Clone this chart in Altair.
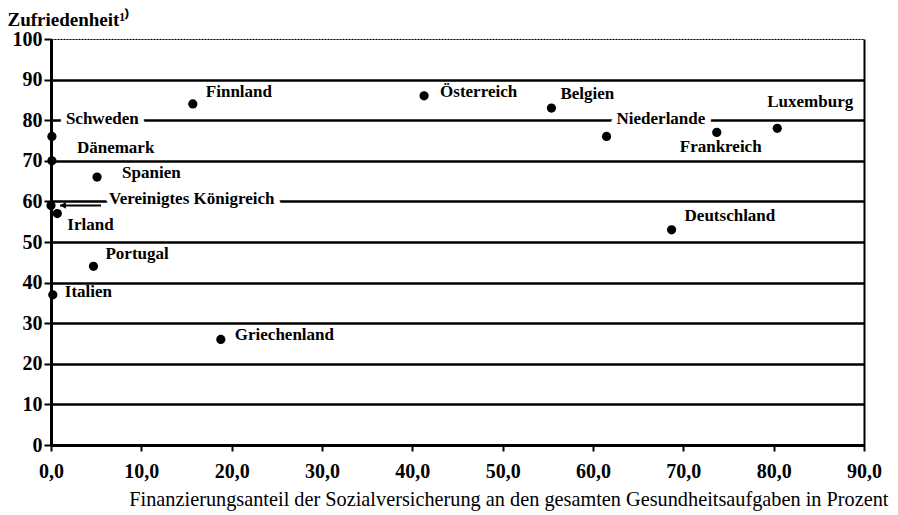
import altair as alt
import pandas as pd

# ---- data ----
countries = ["Finnland", "Schweden", "Dänemark", "Spanien", "Vereinigtes Königreich",
             "Irland", "Portugal", "Italien", "Griechenland", "Österreich", "Belgien",
             "Niederlande", "Frankreich", "Luxemburg", "Deutschland"]
finanzierung = [15.7, 0.1, 0.1, 5.1, 0.0, 0.7, 4.7, 0.2, 18.8, 41.3, 55.4, 61.5, 73.7, 80.4, 68.7]
zufriedenheit = [84, 76, 70, 66, 59, 57, 44, 37, 26, 86, 83, 76, 77, 78, 53]

x_ticks = [0, 10, 20, 30, 40, 50, 60, 70, 80, 90]
y_ticks = [0, 10, 20, 30, 40, 50, 60, 70, 80, 90, 100]

# label placement (pixel offsets from the dot, style only)
label_offsets = {
    "Finnland": (13, -7), "Schweden": (14, -12), "Dänemark": (25, -8),
    "Spanien": (25, 1), "Vereinigtes Königreich": (58, -1), "Irland": (10, 16),
    "Portugal": (12, -7), "Italien": (12, 2), "Griechenland": (14, 1),
    "Österreich": (16, 1), "Belgien": (9, -9), "Niederlande": (10, -12),
    "Frankreich": (-37, 20), "Luxemburg": (-10, -21), "Deutschland": (13, -9),
}
# labels that sit on a grid line and get a white box behind them
boxed = ["Schweden", "Vereinigtes Königreich", "Niederlande"]

df = pd.DataFrame({"land": countries, "fin": finanzierung, "zuf": zufriedenheit})

SERIF = "Liberation Serif"

x_enc = alt.X("fin:Q", scale=alt.Scale(domain=[0, 90], nice=False),
              axis=alt.Axis(
                  values=x_ticks,
                  labelExpr="replace(format(datum.value, '.1f'), '.', ',')",
                  labelFont=SERIF, labelFontSize=20, labelFontWeight="bold",
                  labelColor="black", labelPadding=10, labelFlush=False,
                  tickSize=6, tickWidth=2, tickColor="black",
                  domainColor="black", domainWidth=3,
                  grid=True, gridColor="black", gridWidth=2,
                  gridOpacity={"condition": {"test": "datum.value === 90", "value": 1}, "value": 0},
                  title="Finanzierungsanteil der Sozialversicherung an den gesamten Gesundheitsaufgaben in Prozent",
                  titleFont=SERIF, titleFontSize=20.3, titleFontWeight="normal", titleColor="black",
                  titleAlign="right", titleAnchor="start", titleX=837, titleY=60,
                  titleBaseline="alphabetic",
              ))
y_enc = alt.Y("zuf:Q", scale=alt.Scale(domain=[0, 100], nice=False),
              axis=alt.Axis(
                  values=y_ticks,
                  labelFont=SERIF, labelFontSize=20, labelFontWeight="bold",
                  labelColor="black", labelPadding=2, labelFlush=False,
                  tickSize=7, tickWidth=2, tickColor="black",
                  domainColor="black", domainWidth=3,
                  grid=True, gridColor="black",
                  gridWidth={"condition": {"test": "datum.value === 100", "value": 1}, "value": 2.5},
                  gridDash={"condition": {"test": "datum.value === 100", "value": [2, 1]}, "value": []},
                  title="Zufriedenheit¹⁾",
                  titleFont=SERIF, titleFontSize=19, titleFontWeight="bold", titleColor="black",
                  titleAngle=0, titleAlign="left", titleAnchor="start",
                  titleX=-44, titleY=-14, titleBaseline="alphabetic",
              ))

base = alt.Chart(df).encode(x=x_enc, y=y_enc)

layers = []
# white boxes behind the labels that lie on grid lines
for land in boxed:
    dx, dy = label_offsets[land]
    layers.append(
        base.transform_filter(alt.datum.land == land).mark_text(
            align="left", baseline="alphabetic", dx=dx, dy=dy,
            font=SERIF, fontSize=17, fontWeight="bold",
            fill="white", stroke="white", strokeWidth=12, strokeJoin="round",
        ).encode(text="land:N")
    )
for land, (dx, dy) in label_offsets.items():
    layers.append(
        base.transform_filter(alt.datum.land == land).mark_text(
            align="left", baseline="alphabetic", dx=dx, dy=dy,
            font=SERIF, fontSize=17, fontWeight="bold", color="black",
        ).encode(text="land:N")
    )

vk = base.transform_filter(alt.datum.land == "Vereinigtes Königreich")
arrow_line = vk.mark_rule(color="black", strokeWidth=2, xOffset=9, x2Offset=50).encode(
    x2=alt.X2("fin:Q"))
arrow_head = vk.mark_point(shape="triangle-left", filled=True, color="black",
                           size=45, xOffset=12, opacity=1)
layers += [arrow_line, arrow_head]

points = base.mark_circle(size=85, color="black", opacity=1)
layers.append(points)

chart = alt.layer(*layers).properties(
    width=813, height=406,
    padding={"left": 43, "top": 31, "right": 25, "bottom": 68},
    autosize="none",
).configure_view(stroke=None).configure(background="white")

chart.save("out.html", embed_options={"renderer": "svg", "actions": False})
